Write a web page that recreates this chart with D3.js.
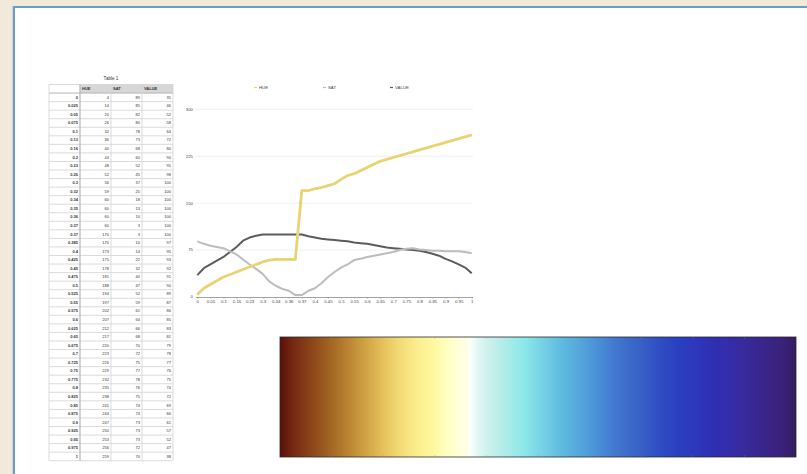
<!DOCTYPE html>
<html>
<head>
<meta charset="utf-8">
<script src="https://cdn.jsdelivr.net/npm/d3@7"></script>
<style>
  html, body { margin: 0; padding: 0; background: #f1e9da; }
  svg { display: block; }
  text { font-family: "Liberation Sans", Arial, Helvetica, sans-serif; }
</style>
</head>
<body>
<svg id="page" width="807" height="474"></svg>
<script>
// Colour map control points: position, hue (deg), saturation (%), value (%)
const positions = ["0", "0.025", "0.05", "0.075", "0.1", "0.13", "0.16", "0.2", "0.23", "0.26",
  "0.3", "0.32", "0.34", "0.35", "0.36", "0.37", "0.37", "0.385", "0.4", "0.425",
  "0.45", "0.475", "0.5", "0.525", "0.55", "0.575", "0.6", "0.625", "0.65", "0.675",
  "0.7", "0.725", "0.75", "0.775", "0.8", "0.825", "0.85", "0.875", "0.9", "0.925",
  "0.95", "0.975", "1"];
const hue = [4, 14, 20, 26, 32, 36, 40, 44, 48, 52,
  56, 59, 60, 60, 60, 60, 170, 170, 173, 175,
  178, 181, 188, 194, 197, 202, 207, 212, 217, 220,
  223, 226, 229, 232, 235, 238, 241, 244, 247, 250,
  253, 256, 259];
const sat = [89, 85, 82, 80, 78, 73, 68, 60, 52, 45,
  37, 25, 18, 13, 10, 3, 3, 10, 14, 22,
  32, 40, 47, 52, 59, 61, 64, 66, 68, 70,
  72, 75, 77, 78, 76, 75, 74, 74, 73, 73,
  73, 72, 70];
const value = [35, 46, 52, 58, 64, 72, 80, 90, 95, 98,
  100, 100, 100, 100, 100, 100, 100, 97, 95, 93,
  92, 91, 90, 89, 87, 86, 85, 83, 81, 79,
  78, 77, 76, 75, 74, 72, 69, 66, 61, 57,
  52, 47, 38];
const columns = ["HUE", "SAT", "VALUE"];
const yTicks = [0, 75, 150, 225, 300];
const seriesNames = ["HUE", "SAT", "VALUE"];
const seriesColors = ["#f2d54e", "#bcbcbc", "#5c5c5c"];

const svg = d3.select("#page");
const n = positions.length;

// ---- sheet panel ----
svg.append("rect").attr("x", 12).attr("y", 6).attr("width", 800).attr("height", 474)
  .attr("fill", "#d9d2c4");
svg.append("rect").attr("x", 14).attr("y", 7).attr("width", 800).attr("height", 474)
  .attr("fill", "#ffffff").attr("stroke", "#6c9bd4").attr("stroke-width", 2);

// ---- table ----
const tbl = { x: 49, y: 84.5, firstW: 31, colW: 31, rowH: 8.55 };
const tableW = tbl.firstW + tbl.colW * columns.length;
const tg = svg.append("g");
tg.append("text").attr("x", tbl.x + tableW / 2).attr("y", 80)
  .attr("text-anchor", "middle").attr("font-size", 4.6).attr("fill", "#333").text("Table 1");

const rows = positions.map((p, i) => [p, hue[i], sat[i], value[i]]);
// header background
tg.append("rect").attr("x", tbl.x).attr("y", tbl.y).attr("width", tableW).attr("height", tbl.rowH)
  .attr("fill", "#d7d7d7");
tg.append("rect").attr("x", tbl.x).attr("y", tbl.y).attr("width", tbl.firstW).attr("height", tbl.rowH)
  .attr("fill", "#ffffff");
// horizontal rules
for (let r = 0; r <= n + 1; r++) {
  tg.append("line").attr("x1", tbl.x).attr("x2", tbl.x + tableW)
    .attr("y1", tbl.y + r * tbl.rowH).attr("y2", tbl.y + r * tbl.rowH)
    .attr("stroke", r === 1 ? "#b5b5b5" : "#d2d2d2").attr("stroke-width", r === 1 ? 1 : 0.8);
}
// vertical rules
const colEdges = [tbl.x, tbl.x + tbl.firstW];
for (let c = 1; c <= columns.length; c++) colEdges.push(tbl.x + tbl.firstW + c * tbl.colW);
colEdges.forEach((cx, i) => {
  tg.append("line").attr("x1", cx).attr("x2", cx)
    .attr("y1", tbl.y).attr("y2", tbl.y + (n + 1) * tbl.rowH)
    .attr("stroke", i === 1 ? "#b5b5b5" : "#d2d2d2").attr("stroke-width", i === 1 ? 1.2 : 0.8);
});
// header labels
columns.forEach((c, i) => {
  tg.append("text").attr("x", tbl.x + tbl.firstW + i * tbl.colW + 2)
    .attr("y", tbl.y + tbl.rowH / 2).attr("dy", "0.35em")
    .attr("font-size", 4).attr("font-weight", "bold").attr("fill", "#333").text(c);
});
// body cells
rows.forEach((row, r) => {
  const cy = tbl.y + (r + 1) * tbl.rowH + tbl.rowH / 2;
  row.forEach((v, c) => {
    const right = c === 0 ? tbl.x + tbl.firstW - 2 : tbl.x + tbl.firstW + c * tbl.colW - 2;
    tg.append("text").attr("x", right).attr("y", cy).attr("dy", "0.35em")
      .attr("text-anchor", "end").attr("font-size", 4)
      .attr("font-weight", c === 0 ? "bold" : "normal")
      .attr("fill", "#333").text(v);
  });
});

// ---- line chart ----
const x = d3.scalePoint().domain(d3.range(n)).range([197.3, 471.7]);
const y = d3.scaleLinear().domain([0, 300]).range([297, 109.3]);
const cg = svg.append("g");

cg.selectAll("line.grid").data(yTicks.filter(t => t > 0)).join("line")
  .attr("class", "grid")
  .attr("x1", 196).attr("x2", 473)
  .attr("y1", d => y(d)).attr("y2", d => y(d))
  .attr("stroke", "#ececec").attr("stroke-width", 0.8);

cg.selectAll("text.ytick").data(yTicks).join("text")
  .attr("class", "ytick")
  .attr("x", 193).attr("y", d => y(d)).attr("dy", "0.32em")
  .attr("text-anchor", "end").attr("font-size", 4.3).attr("fill", "#444")
  .text(d => d);

// x axis
const xAxis = d3.axisBottom(x)
  .tickValues(d3.range(0, n, 2))
  .tickFormat(i => positions[i])
  .tickSize(1.8).tickSizeOuter(0).tickPadding(1.5);
const ax = cg.append("g").attr("transform", `translate(0,${y(0)})`).call(xAxis);
ax.select(".domain").attr("stroke", "#9a9a9a").attr("stroke-width", 0.9)
  .attr("d", `M196,0.5H473`);
ax.selectAll(".tick line").attr("stroke", "#9a9a9a").attr("stroke-width", 0.6);
ax.selectAll(".tick text").attr("font-size", 4.3).attr("fill", "#444")
  .attr("font-family", "'Liberation Sans', Arial, sans-serif");

const seriesData = [hue, sat, value];
const line = d3.line().x((d, i) => x(i)).y(d => y(d));
// draw VALUE, SAT, then HUE on top
[2, 1, 0].forEach(s => {
  if (s === 0) {
    cg.append("path").attr("d", line(seriesData[s])).attr("fill", "none")
      .attr("stroke", "#d9d2b0").attr("stroke-width", 2.8).attr("stroke-linejoin", "round");
  }
  cg.append("path").attr("d", line(seriesData[s])).attr("fill", "none")
    .attr("stroke", seriesColors[s]).attr("stroke-width", s === 0 ? 1.7 : 2)
    .attr("stroke-linejoin", "round");
});

// legend
const legendX = [254, 323, 390];
seriesNames.forEach((name, i) => {
  cg.append("line").attr("x1", legendX[i]).attr("x2", legendX[i] + 3)
    .attr("y1", 87.5).attr("y2", 87.5)
    .attr("stroke", seriesColors[i]).attr("stroke-width", 1.2);
  cg.append("text").attr("x", legendX[i] + 5).attr("y", 87.5).attr("dy", "0.35em")
    .attr("font-size", 4.3).attr("fill", "#444").text(name);
});

// ---- colour ramp built from the HSV control points ----
function hsvToRgb(h, s, v) {
  s /= 100; v /= 100;
  const c = v * s, hp = (h % 360) / 60, xx = c * (1 - Math.abs(hp % 2 - 1));
  let r = 0, g = 0, b = 0;
  if (hp < 1) [r, g, b] = [c, xx, 0];
  else if (hp < 2) [r, g, b] = [xx, c, 0];
  else if (hp < 3) [r, g, b] = [0, c, xx];
  else if (hp < 4) [r, g, b] = [0, xx, c];
  else if (hp < 5) [r, g, b] = [xx, 0, c];
  else [r, g, b] = [c, 0, xx];
  const m = v - c;
  return d3.rgb((r + m) * 255, (g + m) * 255, (b + m) * 255);
}
const defs = svg.append("defs");
const grad = defs.append("linearGradient").attr("id", "ramp")
  .attr("x1", "0%").attr("x2", "100%").attr("y1", "0%").attr("y2", "0%");
positions.forEach((p, i) => {
  grad.append("stop").attr("offset", (+p * 100) + "%")
    .attr("stop-color", hsvToRgb(hue[i], sat[i], value[i]).formatHex());
});
const ramp = { x: 280, y: 337, w: 516, h: 120 };
const rx = d3.scaleLinear().domain([0, 1]).range([ramp.x, ramp.x + ramp.w]);
svg.append("rect").attr("x", ramp.x).attr("y", ramp.y).attr("width", ramp.w).attr("height", ramp.h)
  .attr("fill", "url(#ramp)").attr("stroke", "#2a2a2a").attr("stroke-width", 0.8);
const rampTicks = d3.range(1, 10).map(k => k / 10);
svg.selectAll("line.rt").data(rampTicks).join("line").attr("class", "rt")
  .attr("x1", d => rx(d)).attr("x2", d => rx(d))
  .attr("y1", ramp.y).attr("y2", ramp.y + 2)
  .attr("stroke", "#888").attr("stroke-opacity", 0.5).attr("stroke-width", 0.6);
svg.selectAll("line.rb").data(rampTicks).join("line").attr("class", "rb")
  .attr("x1", d => rx(d)).attr("x2", d => rx(d))
  .attr("y1", ramp.y + ramp.h - 2).attr("y2", ramp.y + ramp.h)
  .attr("stroke", "#888").attr("stroke-opacity", 0.5).attr("stroke-width", 0.6);
</script>
</body>
</html>
